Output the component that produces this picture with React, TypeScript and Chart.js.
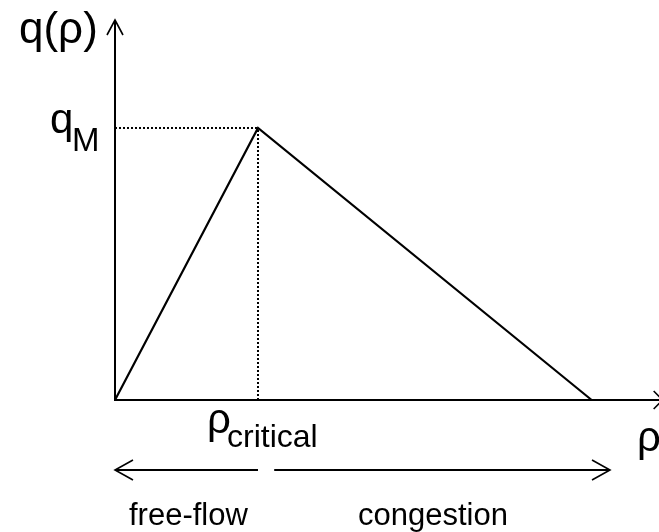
import React, { useEffect, useRef } from "react";
import { Chart, registerables } from "chart.js";

Chart.register(...registerables);

// Triangular fundamental diagram q(ρ)
const densityPoints = [0, 30, 100]; // ρ
const flowPoints = [0, 1, 0]; // q(ρ)
const rhoCritical = 30;
const qMax = 1;
const rhoAxisMax = 114.13;
const qAxisMax = 1.397;
const rhoArrowTip = 114.9;
const regimeLabels = ["free-flow", "congestion"];
const regimeArrowFrom = [30, 33.4];
const regimeArrowTo = [0, 103.85];

const FONT = '"Liberation Sans", Arial, sans-serif';

function seg(ctx: CanvasRenderingContext2D, x1: number, y1: number, x2: number, y2: number) {
  ctx.beginPath();
  ctx.moveTo(x1, y1);
  ctx.lineTo(x2, y2);
  ctx.stroke();
}

function head(ctx: CanvasRenderingContext2D, tx: number, ty: number, dir: number, back: number, out: number) {
  ctx.beginPath();
  ctx.moveTo(tx - dir * back, ty - out);
  ctx.lineTo(tx, ty);
  ctx.lineTo(tx - dir * back, ty + out);
  ctx.stroke();
}

const annotationPlugin = {
  id: "annotations",
  afterDatasetsDraw(chart: any) {
    const { ctx, scales } = chart;
    const x = scales.x;
    const y = scales.y;
    const x0 = x.getPixelForValue(0);
    const y0 = y.getPixelForValue(0);
    const yTop = y.getPixelForValue(qAxisMax);
    const xTip = x.getPixelForValue(rhoArrowTip);
    ctx.save();
    ctx.strokeStyle = "#000";
    ctx.lineCap = "butt";
    // axes
    ctx.lineWidth = 2;
    seg(ctx, x0, y0, x0, yTop + 1);
    seg(ctx, x0 - 1, y0, xTip, y0);
    ctx.lineWidth = 1.6;
    ctx.beginPath();
    ctx.moveTo(x0 - 8, yTop + 15);
    ctx.lineTo(x0, yTop);
    ctx.lineTo(x0 + 8, yTop + 15);
    ctx.stroke();
    head(ctx, xTip, y0, 1, 9, 9);

    // regime arrows
    const ay = y0 + 70;
    ctx.lineWidth = 2;
    for (let i = 0; i < regimeLabels.length; i++) {
      const a = x.getPixelForValue(regimeArrowFrom[i]);
      const b = x.getPixelForValue(regimeArrowTo[i]);
      seg(ctx, a, ay, b, ay);
      ctx.lineWidth = 1.6;
      head(ctx, b, ay, b > a ? 1 : -1, 18, 10);
      ctx.lineWidth = 2;
    }

    // texts
    ctx.fillStyle = "#000";
    ctx.textAlign = "left";
    ctx.textBaseline = "alphabetic";
    ctx.font = `44px ${FONT}`;
    ctx.fillText("q(ρ)", x0 - 96, yTop + 23);
    const yq = y.getPixelForValue(qMax);
    ctx.font = `42px ${FONT}`;
    ctx.fillText("q", x0 - 65, yq + 5);
    ctx.font = `33px ${FONT}`;
    ctx.fillText("M", x0 - 43, yq + 23);
    const xc = x.getPixelForValue(rhoCritical);
    ctx.font = `42px ${FONT}`;
    ctx.fillText("ρ", xc - 51, y0 + 33);
    ctx.font = `32px ${FONT}`;
    ctx.fillText("critical", xc - 31, y0 + 47);
    ctx.font = `42px ${FONT}`;
    ctx.fillText("ρ", x0 + 522, y0 + 51);
    ctx.font = `31px ${FONT}`;
    ctx.fillText(regimeLabels[0], x0 + 14, y0 + 125);
    ctx.fillText(regimeLabels[1], x0 + 243, y0 + 125);
    ctx.restore();
  },
};

export default function App() {
  const ref = useRef<HTMLCanvasElement | null>(null);
  useEffect(() => {
    if (!ref.current) return;
    const main = densityPoints.map((r, i) => ({ x: r, y: flowPoints[i] }));
    const dotted = {
      borderColor: "#000",
      borderWidth: 2,
      borderDash: [2, 2],
      pointRadius: 0,
      clip: false,
    };
    const chart = new Chart(ref.current, {
      type: "line",
      data: {
        datasets: [
          {
            data: main,
            borderColor: "#000",
            borderWidth: 2.2,
            pointRadius: 0,
            tension: 0,
            clip: false,
          },
          {
            ...dotted,
            data: [
              { x: 0, y: qMax },
              { x: rhoCritical, y: qMax },
            ],
          },
          {
            ...dotted,
            data: [
              { x: rhoCritical, y: 0 },
              { x: rhoCritical, y: qMax },
            ],
          },
        ],
      } as any,
      options: {
        animation: false,
        responsive: false,
        layout: { padding: { left: 115, right: 0, top: 20, bottom: 132 } },
        plugins: { legend: { display: false }, tooltip: { enabled: false } },
        scales: {
          x: { type: "linear", min: 0, max: rhoAxisMax, display: false },
          y: { type: "linear", min: 0, max: qAxisMax, display: false },
        },
      } as any,
      plugins: [annotationPlugin],
    });
    return () => chart.destroy();
  }, []);
  return (
    <div style={{ position: "fixed", left: 0, top: 0, width: 659, height: 532, background: "#fff" }}>
      <canvas ref={ref} width={659} height={532} style={{ display: "block", width: 659, height: 532 }} />
    </div>
  );
}
